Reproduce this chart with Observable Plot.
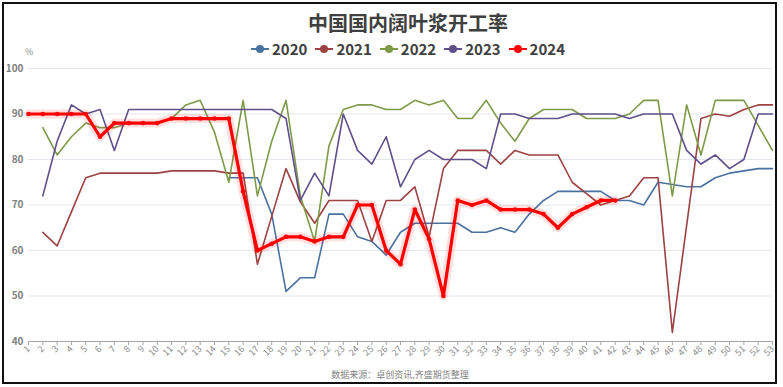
<!DOCTYPE html>
<html>
<head>
<meta charset="utf-8">
<script src="https://cdn.jsdelivr.net/npm/d3@7"></script>
<script src="https://cdn.jsdelivr.net/npm/@observablehq/plot@0.6"></script>
<style>
  html, body { margin: 0; padding: 0; background: #fff; }
  #wrap { position: relative; width: 783px; height: 387px; overflow: hidden; font-family: "Noto Sans CJK SC", "Microsoft YaHei", sans-serif; }
  #frame { position: absolute; left: 2px; top: 2px; width: 771px; height: 378px; border: 2px solid #111; pointer-events: none; }
  #title { position: absolute; left: 0; width: 816px; top: 8px; text-align: center; font-size: 20px; font-weight: bold; color: #404040; }
  #legend { position: absolute; left: 0; width: 816px; top: 38px; display: flex; justify-content: center; gap: 8px; font-size: 15px; font-weight: bold; color: #404040; }
  #legend .item { display: flex; align-items: center; gap: 3px; }
  #pct { position: absolute; left: 25px; top: 45px; font-size: 9px; color: #8c8c8c; }
  #source { position: absolute; left: 0; width: 800px; top: 368px; text-align: center; font-size: 9px; color: #7f7f7f; }
  #chart { position: absolute; left: 0; top: 0; }
</style>
</head>
<body>
<div id="wrap">
  <div id="chart"></div>
  <div id="title"></div>
  <div id="legend"></div>
  <div id="pct">%</div>
  <div id="source"></div>
  <div id="frame"></div>
</div>
<script>
const titleText = "中国国内阔叶浆开工率";
const sourceText = "数据来源：卓创资讯,齐盛期货整理";
const weeks = [1,2,3,4,5,6,7,8,9,10,11,12,13,14,15,16,17,18,19,20,21,22,23,24,25,26,27,28,29,30,31,32,33,34,35,36,37,38,39,40,41,42,43,44,45,46,47,48,49,50,51,52,53];
const yTicks = [40, 50, 60, 70, 80, 90, 100];
const years = ["2020", "2021", "2022", "2023", "2024"];
const colors = ["#4a72a0", "#9c4242", "#7e9a48", "#5f4f8a", "#ff0000"];

const s2020 = [null,null,null,null,null,null,null,null,null,null,null,null,null,null,
  76,76,76,68,51,54,54,68,68,63,62,59,64,66,66,66,66,64,64,65,64,68,71,73,73,73,73,71,71,70,75,74.5,74,74,76,77,77.5,78,78];
const s2021 = [null,64,61,68.5,76,77,77,77,77,77,77.5,77.5,77.5,77.5,77,77,57,67.5,78,70.7,66,71,71,71,62,71,71,74,63,78,82,82,82,79,82,81,81,81,75,72.5,70,71,72,76,76,42,65.5,89,90,89.5,91,92,92];
const s2022 = [null,87,81,85,88,87,87,88,88,88,89,92,93,86,75,93,72,84,93,72,62,83,91,92,92,91,91,93,92,93,89,89,93,88,84,89,91,91,91,89,89,89,90,93,93,72,92,81,93,93,93,87.5,82];
const s2023 = [null,72,84,92,90,91,82,91,91,91,91,91,91,91,91,91,91,91,89,71,77,72,90,82,79,85,74,80,82,80,80,80,78,90,90,89,89,89,90,90,90,90,89,90,90,90,82,79,81,78,80,90,90];
const s2024 = [90,90,90,90,90,85,88,88,88,88,89,89,89,89,89,73,60,61.5,63,63,62,63,63,70,70,60,57,69,62.5,50,71,70,71,69,69,69,68,65,68,69.5,71,71];

const series = [s2020, s2021, s2022, s2023, s2024];
const rows = (arr, year) => weeks.map((w, i) => ({week: w, value: arr[i], year})).filter(d => d.value != null);
const data = series.map((s, i) => rows(s, years[i]));

document.getElementById("title").textContent = titleText;
document.getElementById("source").textContent = sourceText;

const legend = document.getElementById("legend");
years.forEach((y, i) => {
  const it = document.createElement("div");
  it.className = "item";
  it.innerHTML = `<svg width="18" height="10"><line x1="0" y1="5" x2="18" y2="5" stroke="${colors[i]}" stroke-width="2"/><circle cx="9" cy="5" r="4" fill="${colors[i]}"/></svg><span>${y}</span>`;
  legend.appendChild(it);
});

const lineMarks = [];
for (let i = 0; i < 4; i++) {
  lineMarks.push(Plot.line(data[i], {x: "week", y: "value", stroke: colors[i], strokeWidth: 1.6}));
}

const chart = Plot.plot({
  width: 783,
  height: 387,
  marginTop: 68,
  marginBottom: 46,
  marginLeft: 28,
  marginRight: 11,
  style: {fontFamily: "'Noto Sans CJK SC', sans-serif", background: "transparent", overflow: "visible"},
  x: {domain: [1, 53]},
  y: {domain: [40, 100]},
  marks: [
    Plot.gridY(yTicks, {stroke: "#e3e8ee", strokeOpacity: 1, strokeWidth: 1}),
    Plot.axisY(yTicks, {tickSize: 0, tickPadding: 5, fill: "#7f7f7f", fontSize: 10, fontWeight: "bold", label: null}),
    Plot.ruleY([40], {stroke: "#a6a6a6", strokeWidth: 1}),
    Plot.axisX(weeks, {tickSize: 4, stroke: "#a6a6a6", tickRotate: -45, tickPadding: 2, fill: "#8c8c8c", fontSize: 9, label: null}),
    ...lineMarks,
    Plot.line(data[4], {x: "week", y: "value", stroke: colors[4], strokeWidth: 9, strokeOpacity: 0.12}),
    Plot.line(data[4], {x: "week", y: "value", stroke: colors[4], strokeWidth: 3.2}),
    Plot.dot(data[4], {x: "week", y: "value", fill: colors[4], r: 2.3})
  ]
});
document.getElementById("chart").appendChild(chart);
</script>
</body>
</html>
